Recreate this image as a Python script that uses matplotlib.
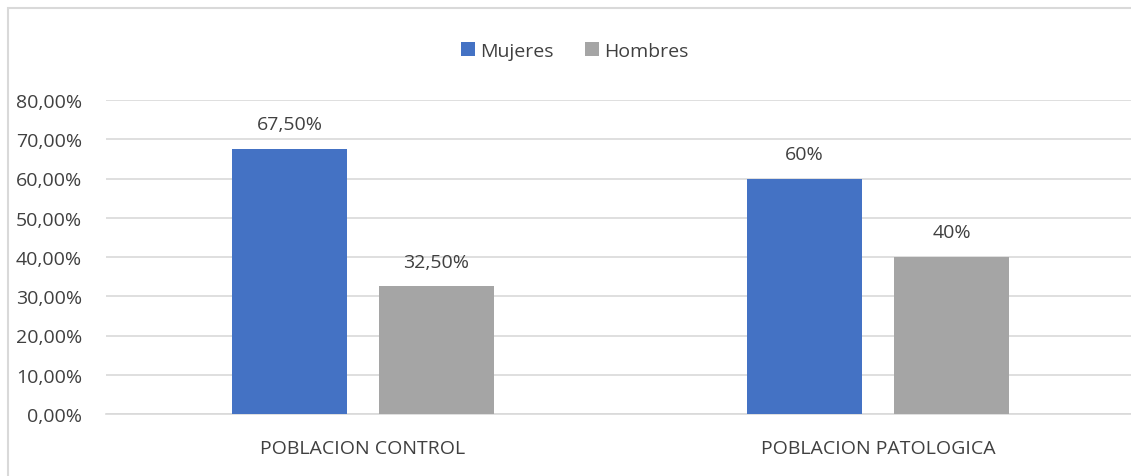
import matplotlib.pyplot as plt
from matplotlib.patches import Rectangle
import numpy as np

categories = ["POBLACION CONTROL", "POBLACION PATOLOGICA"]
series = ["Mujeres", "Hombres"]
mujeres = [0.675, 0.60]
hombres = [0.325, 0.40]
mujeres_labels = ["67,50%", "60%"]
hombres_labels = ["32,50%", "40%"]
yticks = [0.0, 0.1, 0.2, 0.3, 0.4, 0.5, 0.6, 0.7, 0.8]

plt.rcParams['font.family'] = ['Open Sans', 'DejaVu Sans']
text_color = '#404040'
colors = ['#4472C4', '#A5A5A5']
fs = 14

W, H = 1131, 477
fig = plt.figure(figsize=(W / 100, H / 100), dpi=100)

# chart frame (extends past right/bottom edges like the source crop)
fig.patches.append(Rectangle((7.5 / W, -0.1), 1.2, (H - 9) / H + 0.1,
                             transform=fig.transFigure, fill=False,
                             edgecolor='#D9D9D9', linewidth=1.5))

ax = fig.add_axes([105.5 / W, 62 / H, 1030 / W, 314 / H])
x = np.arange(len(categories))
off = 0.1427
bw = 0.223
b1 = ax.bar(x - off, mujeres, bw, color=colors[0], label=series[0], zorder=3)
b2 = ax.bar(x + off, hombres, bw, color=colors[1], label=series[1], zorder=3)

for rect, lab in zip(b1, mujeres_labels):
    ax.text(rect.get_x() + rect.get_width() / 2, rect.get_height() + 0.04, lab,
            ha='center', va='bottom', fontsize=fs, color=text_color)
for rect, lab in zip(b2, hombres_labels):
    ax.text(rect.get_x() + rect.get_width() / 2, rect.get_height() + 0.04, lab,
            ha='center', va='bottom', fontsize=fs, color=text_color)

ax.set_xlim(-0.5, 1.5)
ax.set_ylim(0, 0.8)
ax.set_yticks(yticks)
ax.set_yticklabels([f"{v * 100:.2f}%".replace('.', ',') for v in yticks])
ax.set_xticks(x)
ax.set_xticklabels(categories)
ax.tick_params(axis='both', length=0, labelsize=fs, colors=text_color)
ax.tick_params(axis='y', pad=17)
ax.tick_params(axis='x', pad=18)
ax.grid(axis='y', color='#D9D9D9', linewidth=1.2, zorder=0)
for s in ['top', 'right', 'left']:
    ax.spines[s].set_visible(False)
ax.spines['bottom'].set_color('#D9D9D9')
ax.spines['bottom'].set_linewidth(1.2)

fig.legend(loc='center', bbox_to_anchor=(575 / W, 1 - 52 / H), ncol=2, frameon=False,
           fontsize=fs, handlelength=0.7, handleheight=0.7, handletextpad=0.3,
           columnspacing=1.6, labelcolor=text_color)

fig.savefig('out.png', dpi=100)
